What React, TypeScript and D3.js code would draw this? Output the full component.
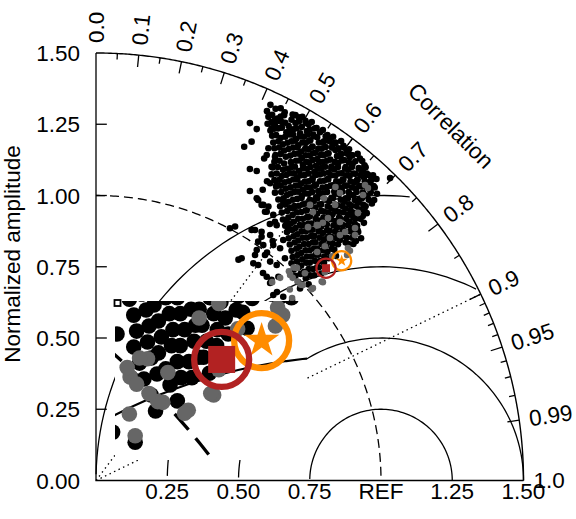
import React from "react";
import * as d3 from "d3";

// ---------------- data ----------------
const sdTicks = [0, 0.25, 0.5, 0.75, 1.0, 1.25, 1.5];
const sdTickLabels = ["0.00", "0.25", "0.50", "0.75", "1.00", "1.25", "1.50"];
const xTickValues = [0.25, 0.5, 0.75, 1.0, 1.25, 1.5];
const xTickLabels = ["0.25", "0.50", "0.75", "REF", "1.25", "1.50"];
const corLabelValues = [0, 0.1, 0.2, 0.3, 0.4, 0.5, 0.6, 0.7, 0.8, 0.9, 0.95, 0.99, 1.0];
const corLabels = ["0.0", "0.1", "0.2", "0.3", "0.4", "0.5", "0.6", "0.7", "0.8", "0.9", "0.95", "0.99", "1.0"];
const corMajor = [0.1, 0.2, 0.3, 0.4, 0.5, 0.6, 0.7, 0.8, 0.9, 0.95, 0.99];
const corMinor = [0.05, 0.15, 0.25, 0.35, 0.45, 0.55, 0.65, 0.75, 0.85, 0.91, 0.92, 0.93, 0.94, 0.96, 0.97, 0.98];
const rmsRadii = [0.25, 0.5, 0.75, 1.0];
const corRays = [0.6, 0.9];
const maxSd = 1.5;

// points as (sd*cor, sd*sqrt(1-cor^2)) in normalized units
const blackOutliers: [number, number][] = [
  [0.540,1.254],[0.564,1.233],[0.546,1.189],[0.520,1.171],[0.540,1.093],[0.564,1.086],[0.540,1.016],[0.569,0.984],
  [0.581,0.967],[0.593,0.943],[0.605,0.961],[0.488,0.891],[0.546,0.879],[0.581,0.873],[0.569,0.838],[0.564,0.809],
  [0.511,0.780],[0.558,0.791],[0.569,0.756],[0.552,0.762],[0.599,0.715],[0.616,0.704],[0.640,0.715],[0.622,0.651],
  [0.657,0.645],[1.032,1.061],[0.590,1.130],[0.600,1.050],[0.585,1.020],[0.610,0.900],[0.620,0.840],[0.600,0.800],
  [0.688,0.631],[0.470,0.885],[0.500,0.775],[0.628,0.908],[0.611,0.861],[0.616,1.101],[0.611,1.043],[0.634,1.037],
  [0.605,1.166],[0.599,1.142],[0.628,1.136],[0.616,1.236],[0.640,1.236],[0.628,1.265],[0.586,0.728],[0.611,0.693],[0.635,0.661],
  [0.558,0.879],[0.581,0.855],[0.587,0.826],[0.622,0.826],[0.646,0.815],[0.657,0.844],[0.675,0.885],[0.593,0.791],
  [0.611,0.768],[0.634,0.756],[0.663,0.780],[0.564,0.990],[0.587,0.967],[0.599,0.943],[0.622,0.932],[0.657,0.978],
  [0.692,0.955],[0.634,0.896],[0.669,0.908],
];

const blackCore: [number, number][] = [
  [0.612,1.318],[0.648,1.306],
  [0.600,1.296],[0.630,1.304],[0.662,1.292],[0.690,1.284],
  [0.605,1.276],[0.636,1.270],[0.660,1.282],[0.686,1.266],[0.712,1.274],[0.735,1.262],
  [0.602,1.252],[0.628,1.246],[0.652,1.258],[0.676,1.244],[0.700,1.254],[0.722,1.240],[0.746,1.250],[0.768,1.236],
  [0.612,1.228],[0.638,1.236],[0.668,1.222],[0.692,1.232],[0.716,1.218],[0.740,1.226],[0.762,1.214],[0.786,1.222],[0.806,1.208],
  [0.618,1.210],[0.648,1.202],[0.680,1.214],[0.702,1.198],[0.730,1.206],[0.752,1.194],[0.776,1.204],[0.800,1.190],[0.822,1.200],[0.840,1.184],
  [0.622,1.186],[0.656,1.180],[0.686,1.190],[0.710,1.176],[0.736,1.184],[0.760,1.172],[0.782,1.186],[0.806,1.170],[0.830,1.180],[0.850,1.166],[0.868,1.174],
  [0.626,1.166],[0.660,1.158],[0.692,1.168],[0.720,1.154],[0.746,1.162],[0.770,1.150],[0.792,1.164],[0.816,1.148],[0.840,1.160],[0.860,1.146],[0.880,1.156],[0.896,1.142],
  [0.630,1.142],[0.666,1.136],[0.696,1.146],[0.722,1.132],[0.750,1.140],[0.776,1.128],[0.800,1.142],[0.822,1.126],[0.846,1.138],[0.870,1.124],[0.890,1.134],[0.910,1.120],[0.926,1.130],
  [0.626,1.118],[0.660,1.112],[0.702,1.122],[0.726,1.108],[0.748,1.116],[0.772,1.104],[0.796,1.118],[0.826,1.102],[0.850,1.114],[0.876,1.100],[0.900,1.110],[0.922,1.096],[0.942,1.106],
  [0.620,1.098],[0.656,1.090],[0.686,1.100],[0.712,1.086],[0.740,1.094],[0.766,1.082],[0.790,1.096],[0.816,1.080],[0.836,1.092],[0.862,1.078],[0.886,1.090],[0.910,1.076],[0.936,1.086],[0.956,1.072],
  [0.616,1.074],[0.652,1.068],[0.682,1.078],[0.706,1.064],[0.732,1.072],[0.760,1.060],[0.786,1.074],[0.812,1.058],[0.840,1.070],[0.866,1.056],[0.890,1.068],[0.916,1.054],[0.940,1.064],[0.962,1.050],[0.984,1.058],
  [0.626,1.054],[0.662,1.046],[0.692,1.056],[0.720,1.042],[0.746,1.050],[0.772,1.038],[0.800,1.052],[0.830,1.036],[0.856,1.048],[0.880,1.034],[0.906,1.046],[0.930,1.032],[0.956,1.042],[0.978,1.028],
  [0.632,1.032],[0.666,1.024],[0.700,1.034],[0.726,1.020],[0.752,1.028],[0.780,1.016],[0.810,1.030],[0.836,1.014],[0.862,1.026],[0.886,1.012],[0.912,1.024],[0.936,1.010],[0.962,1.020],[0.986,1.006],
  [0.628,1.010],[0.670,1.002],[0.696,1.012],[0.722,0.998],[0.746,1.006],[0.772,0.994],[0.796,1.008],[0.826,0.992],[0.852,1.004],[0.876,0.990],[0.902,1.002],[0.926,0.988],[0.952,0.998],[0.976,0.984],
  [0.640,0.986],[0.676,0.978],[0.706,0.988],[0.736,0.972],[0.764,0.982],[0.790,0.968],[0.818,0.980],[0.846,0.966],[0.872,0.978],[0.896,0.964],[0.920,0.976],[0.946,0.962],[0.968,0.972],
  [0.646,0.962],[0.680,0.956],[0.712,0.964],[0.740,0.948],[0.770,0.958],[0.800,0.944],[0.826,0.956],[0.852,0.942],[0.876,0.954],[0.902,0.940],[0.926,0.950],[0.950,0.938],
  [0.652,0.940],[0.690,0.932],[0.720,0.942],[0.750,0.926],[0.776,0.936],[0.802,0.922],[0.830,0.934],[0.856,0.920],[0.884,0.932],[0.910,0.918],[0.936,0.928],
  [0.656,0.916],[0.694,0.908],[0.726,0.918],[0.756,0.902],[0.786,0.912],[0.810,0.898],[0.840,0.910],[0.866,0.896],[0.890,0.908],[0.916,0.894],[0.940,0.904],
  [0.664,0.894],[0.700,0.886],[0.730,0.896],[0.760,0.880],[0.790,0.890],[0.820,0.876],[0.846,0.888],[0.872,0.874],[0.896,0.886],[0.920,0.872],
  [0.670,0.872],[0.706,0.864],[0.736,0.874],[0.766,0.858],[0.796,0.868],[0.826,0.854],[0.852,0.866],[0.880,0.852],[0.906,0.864],[0.930,0.850],
  [0.676,0.850],[0.710,0.842],[0.740,0.852],[0.770,0.836],[0.800,0.846],[0.830,0.832],[0.856,0.844],[0.886,0.830],[0.912,0.840],
  [0.680,0.828],[0.714,0.820],[0.746,0.830],[0.776,0.814],[0.806,0.824],[0.836,0.810],
  [0.686,0.806],[0.720,0.798],[0.750,0.808],[0.780,0.792],[0.812,0.802],[0.842,0.788],
  [0.690,0.784],[0.724,0.776],[0.756,0.786],[0.786,0.770],[0.816,0.780],
  [0.686,0.762],[0.720,0.754],[0.750,0.764],[0.782,0.748],
  [0.694,0.740],[0.730,0.732],[0.762,0.742],[0.790,0.726],
  [0.700,0.718],[0.736,0.710],[0.766,0.720],
  [0.710,0.696],[0.746,0.688],
  [0.716,0.674],
];

const blackFill: [number, number][] = [
  [0.618,1.283],[0.648,1.277],[0.700,1.282],[0.724,1.276],
  [0.616,1.258],[0.640,1.262],[0.664,1.255],[0.712,1.260],[0.736,1.254],[0.757,1.258],
  [0.625,1.234],[0.652,1.238],[0.680,1.231],[0.704,1.236],[0.750,1.231],[0.774,1.237],[0.796,1.230],
  [0.632,1.212],[0.664,1.206],[0.692,1.213],[0.716,1.207],[0.742,1.214],[0.764,1.208],[0.812,1.212],[0.832,1.206],
  [0.640,1.190],[0.672,1.185],[0.698,1.192],[0.724,1.186],[0.748,1.192],[0.796,1.185],[0.818,1.191],[0.840,1.186],[0.860,1.191],
  [0.643,1.168],[0.676,1.163],[0.706,1.169],[0.734,1.164],[0.758,1.170],[0.780,1.164],[0.828,1.168],[0.850,1.162],[0.870,1.168],[0.888,1.162],
  [0.648,1.146],[0.682,1.140],[0.710,1.147],[0.736,1.141],[0.762,1.148],[0.788,1.142],[0.812,1.147],[0.858,1.141],[0.880,1.147],[0.900,1.141],[0.918,1.146],
  [0.644,1.122],[0.684,1.117],[0.714,1.123],[0.738,1.118],[0.760,1.124],[0.784,1.117],[0.810,1.122],[0.838,1.117],[0.862,1.123],[0.888,1.116],[0.934,1.121],
  [0.638,1.100],[0.672,1.094],[0.698,1.101],[0.726,1.095],[0.753,1.100],[0.778,1.094],[0.804,1.101],[0.826,1.095],[0.849,1.100],[0.874,1.094],[0.898,1.100],[0.923,1.094],[0.946,1.099],
  [0.634,1.077],[0.668,1.072],[0.694,1.078],[0.720,1.071],[0.746,1.077],[0.772,1.072],[0.799,1.078],[0.826,1.071],[0.852,1.077],[0.878,1.071],[0.903,1.077],[0.928,1.072],[0.950,1.077],[0.972,1.071],
  [0.644,1.055],[0.677,1.050],[0.706,1.056],[0.733,1.049],[0.759,1.055],[0.786,1.050],[0.815,1.056],[0.843,1.050],[0.868,1.055],[0.893,1.049],[0.918,1.055],[0.943,1.050],[0.966,1.054],
  [0.648,1.034],[0.683,1.029],[0.713,1.035],[0.739,1.029],[0.766,1.034],[0.795,1.028],[0.823,1.034],[0.849,1.029],[0.874,1.035],[0.899,1.028],[0.924,1.034],[0.949,1.029],[0.974,1.033],
  [0.650,1.012],[0.683,1.007],[0.709,1.013],[0.734,1.007],[0.759,1.012],[0.784,1.006],[0.811,1.012],[0.839,1.007],[0.864,1.013],[0.889,1.006],[0.914,1.012],[0.939,1.007],[0.964,1.011],
  [0.658,0.990],[0.691,0.985],[0.721,0.991],[0.750,0.985],[0.777,0.990],[0.804,0.985],[0.832,0.991],[0.859,0.985],[0.884,0.990],[0.908,0.984],[0.933,0.990],[0.957,0.985],
  [0.663,0.968],[0.696,0.963],[0.726,0.969],[0.755,0.963],[0.785,0.968],[0.813,0.962],[0.839,0.968],[0.864,0.963],[0.889,0.969],[0.914,0.963],[0.938,0.967],
  [0.671,0.946],[0.705,0.941],[0.735,0.947],[0.763,0.941],[0.790,0.946],[0.815,0.940],[0.841,0.946],[0.868,0.941],[0.893,0.947],[0.918,0.941],[0.943,0.945],
  [0.675,0.923],[0.710,0.918],[0.741,0.924],[0.771,0.918],[0.798,0.923],[0.825,0.917],[0.853,0.923],[0.878,0.918],[0.903,0.924],[0.928,0.918],
  [0.682,0.901],[0.715,0.896],[0.745,0.902],[0.775,0.896],[0.805,0.901],[0.833,0.895],[0.859,0.901],[0.884,0.896],[0.908,0.900],
  [0.688,0.879],[0.721,0.874],[0.751,0.880],[0.781,0.874],[0.811,0.879],[0.839,0.873],[0.866,0.879],[0.893,0.874],[0.918,0.878],
  [0.693,0.857],[0.725,0.852],[0.755,0.858],[0.785,0.852],[0.815,0.857],[0.843,0.851],[0.871,0.857],[0.899,0.852],
  [0.697,0.835],[0.730,0.830],[0.761,0.836],[0.791,0.830],[0.821,0.835],[0.849,0.829],[0.876,0.835],[0.903,0.830],
  [0.703,0.813],[0.735,0.808],[0.765,0.814],[0.796,0.808],[0.827,0.813],
  [0.707,0.791],[0.740,0.786],[0.771,0.792],[0.801,0.786],
  [0.705,0.769],[0.738,0.764],[0.769,0.770],[0.800,0.764],
  [0.710,0.747],[0.746,0.742],[0.776,0.748],
  [0.718,0.725],[0.751,0.720],
];

const greyPts: [number, number][] = [
  [0.944,1.037],[0.954,1.026],[0.937,1.002],[0.856,1.009],[0.839,0.967],[0.814,0.921],[0.779,0.896],[0.856,0.907],
  [0.919,0.939],[0.874,0.872],[0.821,0.851],[0.909,0.886],[0.881,0.791],[0.796,0.696],[0.751,0.967],[0.761,0.942],
  [0.775,0.896],[0.744,0.889],[0.705,0.746],[0.681,0.721],[0.646,0.711],[0.618,0.696],[0.726,0.686],[0.688,0.640],
  [0.761,0.675],[0.796,0.904],[0.856,0.861],[0.909,0.861],[0.884,0.816],[0.776,0.802],[0.803,0.822],[0.891,0.806],
  [0.694,0.747],[0.677,0.734],[0.690,0.711],[0.733,0.727],[0.719,0.687],[0.756,0.671],[0.792,0.698],[0.803,0.731],
  [0.680,0.670],[0.707,0.698],[0.829,0.787],[0.840,1.030],[0.800,0.990],
];

const modelNames = ["square", "star"];
const modelX = [0.807, 0.862];
const modelY = [0.745, 0.771];
const modelColors = ["#B22222", "#FF8C00"];

// ---------------- layout ----------------
const W = 576;
const H = 519;
const FONT = "'Liberation Sans', Arial, Helvetica, sans-serif";
const FS = 22.5;

const sx = d3.scaleLinear().domain([0, maxSd]).range([96, 523.5]);
const sy = d3.scaleLinear().domain([0, maxSd]).range([480.5, 53]);

type Pt = [number, number];
type Proj = (p: Pt) => Pt;
const mainProj: Proj = ([x, y]) => [sx(x), sy(y)];

// inset (magnified view around the two models)
const insetRect = { x: 115, y: 301, w: 192, h: 159 };
const insetK = 2.55;
const insetCenterOut: Pt = [241.65, 350];
const insetCenterIn: Pt = mainProj([(modelX[0] + modelX[1]) / 2, (modelY[0] + modelY[1]) / 2]);
const insetProj: Proj = (p) => {
  const [a, b] = mainProj(p);
  return [insetCenterOut[0] + insetK * (a - insetCenterIn[0]), insetCenterOut[1] + insetK * (b - insetCenterIn[1])];
};

const polar = (r: number, c: number): Pt => [r * c, r * Math.sqrt(Math.max(0, 1 - c * c))];

function rmsArc(g: number): Pt[] {
  const xs: Pt[] = [];
  for (let i = 0; i < 105; i++) {
    const t = i * 0.03;
    xs.push([1 + g * Math.cos(t), g * Math.sin(t)]);
  }
  let start = 0;
  xs.forEach((p, i) => {
    if (p[0] * p[0] + p[1] * p[1] > maxSd * maxSd) start = i + 1;
  });
  let end = xs.findIndex((p) => p[0] < 0);
  end = end < 0 ? xs.length : end;
  return xs.slice(start, end);
}

function quarter(r: number, n = 180): Pt[] {
  const pts: Pt[] = [];
  for (let i = 0; i <= n; i++) {
    const a = (Math.PI / 2) * (1 - i / n);
    pts.push([r * Math.cos(a), r * Math.sin(a)]);
  }
  return pts;
}

interface Style {
  lw: number;
  dashW: number;
  dash: string;
  dotW: number;
  dot: string;
  ptR: number;
  ringR: number;
  ringW: number;
  sq: number;
  starR: number;
}

const mainStyle: Style = { lw: 1.3, dashW: 1.3, dash: "9,5", dotW: 1.3, dot: "1.5,3.5", ptR: 3.3, ringR: 9.6, ringW: 2.2, sq: 8, starR: 6.2 };
const insetStyle: Style = { lw: 2.1, dashW: 3.3, dash: "21,11", dotW: 2.5, dot: "3,9", ptR: 7.8, ringR: 27.5, ringW: 6.3, sq: 27, starR: 18.5 };

const allBlack = [...blackOutliers, ...blackCore, ...blackFill];

function Geometry({ proj, st }: { proj: Proj; st: Style }) {
  const line = d3.line<Pt>().x((d) => proj(d)[0]).y((d) => proj(d)[1]);
  return (
    <g>
      {rmsRadii.map((g) => (
        <path key={"g" + g} d={line(rmsArc(g)) || ""} fill="none" stroke="#000" strokeWidth={st.lw} />
      ))}
      <path d={line(quarter(1.0)) || ""} fill="none" stroke="#000" strokeWidth={st.dashW} strokeDasharray={st.dash} />
      {corRays.map((c) => (
        <path key={"r" + c} d={line([[0, 0], polar(maxSd, c)]) || ""} fill="none" stroke="#000" strokeWidth={st.dotW} strokeDasharray={st.dot} />
      ))}
      {allBlack.map((p, i) => {
        const [a, b] = proj(p);
        return <circle key={"b" + i} cx={a} cy={b} r={st.ptR} fill="#000" />;
      })}
      {greyPts.map((p, i) => {
        const [a, b] = proj(p);
        return <circle key={"e" + i} cx={a} cy={b} r={st.ptR} fill="#666666" />;
      })}
      {[1, 0].map((i) => {
        const [a, b] = proj([modelX[i], modelY[i]]);
        const col = modelColors[i];
        const shape =
          modelNames[i] === "square" ? (
            <rect x={a - st.sq / 2} y={b - st.sq / 2} width={st.sq} height={st.sq} fill={col} />
          ) : (
            <path
              transform={`translate(${a},${b})`}
              d={d3.symbol().type(d3.symbolStar).size((st.starR * st.starR) / 0.8908130915292852)() || ""}
              fill={col}
            />
          );
        return (
          <g key={"m" + i}>
            {shape}
            <circle cx={a} cy={b} r={st.ringR} fill="none" stroke={col} strokeWidth={st.ringW} />
          </g>
        );
      })}
    </g>
  );
}

export default function App() {
  const line = d3.line<Pt>().x((d) => sx(d[0])).y((d) => sy(d[1]));
  const txt = { fontFamily: FONT, fontSize: FS, fill: "#000" } as const;
  return (
    <svg width={W} height={H} style={{ position: "absolute", left: 0, top: 0, background: "#fff" }}>
      <rect x={0} y={0} width={W} height={H} fill="#fff" />
      {/* axes */}
      <path d={line([[0, maxSd], [0, 0], [maxSd, 0]]) || ""} fill="none" stroke="#000" strokeWidth={1.3} />
      <path d={line(quarter(maxSd, 360)) || ""} fill="none" stroke="#000" strokeWidth={1.4} />
      {sdTicks.slice(1, -1).map((v) => (
        <path key={"yt" + v} d={line([[0, v], [0.038, v]]) || ""} stroke="#000" strokeWidth={1.3} />
      ))}
      {corMajor.map((c) => (
        <path key={"cM" + c} d={line([polar(maxSd, c), polar(maxSd - 0.042, c)]) || ""} stroke="#000" strokeWidth={1.3} />
      ))}
      {corMinor.map((c) => (
        <path key={"cm" + c} d={line([polar(maxSd, c), polar(maxSd - 0.021, c)]) || ""} stroke="#000" strokeWidth={1.3} />
      ))}

      <Geometry proj={mainProj} st={mainStyle} />

      {/* magnified inset */}
      <defs>
        <clipPath id="insetClip">
          <rect x={insetRect.x} y={insetRect.y} width={insetRect.w} height={insetRect.h} />
        </clipPath>
      </defs>
      <rect x={insetRect.x} y={insetRect.y} width={insetRect.w} height={insetRect.h} fill="#fff" />
      <g clipPath="url(#insetClip)">
        <Geometry proj={insetProj} st={insetStyle} />
      </g>
      <rect x={insetRect.x - 0.5} y={insetRect.y - 1} width={6} height={6} fill="#fff" stroke="#000" strokeWidth={1.8} />

      {/* labels */}
      {sdTicks.map((v, i) => (
        <text key={"yl" + v} x={80} y={sy(v) + 8} textAnchor="end" {...txt}>
          {sdTickLabels[i]}
        </text>
      ))}
      {xTickValues.map((v, i) => (
        <text key={"xl" + v} x={sx(v)} y={498.5} textAnchor="middle" {...txt}>
          {xTickLabels[i]}
        </text>
      ))}
      <text transform="translate(20,254) rotate(-90)" textAnchor="middle" {...txt}>
        Normalized amplitude
      </text>
      {corLabelValues.map((c, i) => {
        const [a, b] = mainProj(polar(1.535, c));
        const deg = (Math.acos(c) * 180) / Math.PI;
        return (
          <text key={"cl" + c} transform={`translate(${a},${b}) rotate(${-deg})`} dominantBaseline="central" {...txt}>
            {corLabels[i]}
          </text>
        );
      })}
      {(() => {
        const [a, b] = mainProj(polar(1.76, Math.SQRT1_2));
        return (
          <text transform={`translate(${a},${b}) rotate(45)`} textAnchor="middle" dominantBaseline="central" {...txt}>
            Correlation
          </text>
        );
      })()}
    </svg>
  );
}
